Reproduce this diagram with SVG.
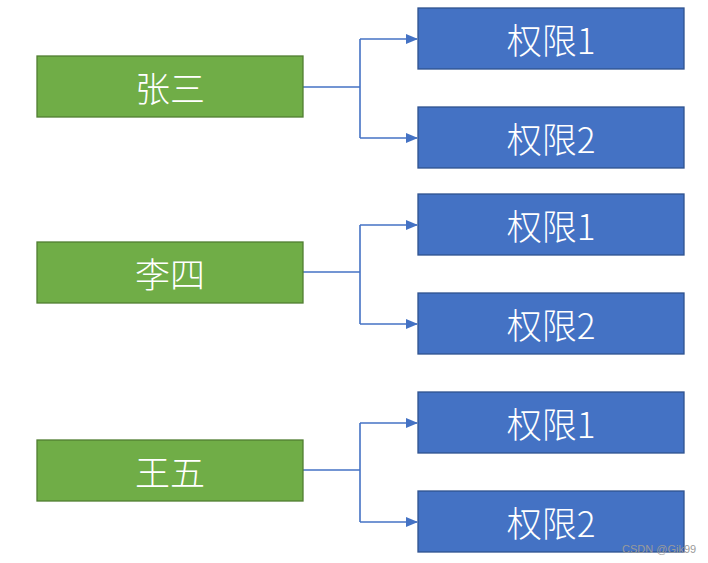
<svg xmlns="http://www.w3.org/2000/svg" width="708" height="563" viewBox="0 0 708 563">
<style>
.g{fill:#70AD47;stroke:#507E32;stroke-width:1.3}
.b{fill:#4472C4;stroke:#2F528F;stroke-width:1.3}
.t{fill:#fff;font-family:"Noto Sans CJK SC","Noto Sans",sans-serif;font-size:35px;font-weight:300;text-anchor:middle;dominant-baseline:central}
.c{fill:none;stroke:#4472C4;stroke-width:1.6}
.w{fill:#9a9a9a;font-family:"Liberation Sans",Arial,sans-serif;font-size:11px}
</style>
<defs>
<marker id="a" markerWidth="12" markerHeight="10" refX="11" refY="5" orient="auto" markerUnits="userSpaceOnUse">
<path d="M0,0 L12,5 L0,10 Z" fill="#4472C4"/>
</marker>
</defs>
<rect width="708" height="563" fill="#fff"/>
<g id="connectors">
<path class="c" d="M303,87 H360"/>
<path class="c" d="M360,39 V138"/>
<path class="c" d="M360,39 H417" marker-end="url(#a)"/>
<path class="c" d="M360,138 H417" marker-end="url(#a)"/>
<path class="c" d="M303,272 H360"/>
<path class="c" d="M360,225 V324"/>
<path class="c" d="M360,225 H417" marker-end="url(#a)"/>
<path class="c" d="M360,324 H417" marker-end="url(#a)"/>
<path class="c" d="M303,470 H360"/>
<path class="c" d="M360,423 V522"/>
<path class="c" d="M360,423 H417" marker-end="url(#a)"/>
<path class="c" d="M360,522 H417" marker-end="url(#a)"/>
</g>
<g id="zhangsan"><rect class="g" x="37" y="56" width="266" height="61"/><text class="t" x="170" y="86">张三</text></g>
<g id="lisi"><rect class="g" x="37" y="242" width="266" height="61"/><text class="t" x="170" y="272">李四</text></g>
<g id="wangwu"><rect class="g" x="37" y="440" width="266" height="61"/><text class="t" x="170" y="470">王五</text></g>
<g id="p1a"><rect class="b" x="418" y="8" width="266" height="61"/><text class="t" x="551" y="38">权限1</text></g>
<g id="p2a"><rect class="b" x="418" y="107" width="266" height="61"/><text class="t" x="551" y="137">权限2</text></g>
<g id="p1b"><rect class="b" x="418" y="194" width="266" height="61"/><text class="t" x="551" y="224">权限1</text></g>
<g id="p2b"><rect class="b" x="418" y="293" width="266" height="61"/><text class="t" x="551" y="323">权限2</text></g>
<g id="p1c"><rect class="b" x="418" y="392" width="266" height="61"/><text class="t" x="551" y="422">权限1</text></g>
<g id="p2c"><rect class="b" x="418" y="491" width="266" height="61"/><text class="t" x="551" y="521">权限2</text></g>
<text class="w" x="622" y="553">CSDN @Gik99</text>
</svg>
